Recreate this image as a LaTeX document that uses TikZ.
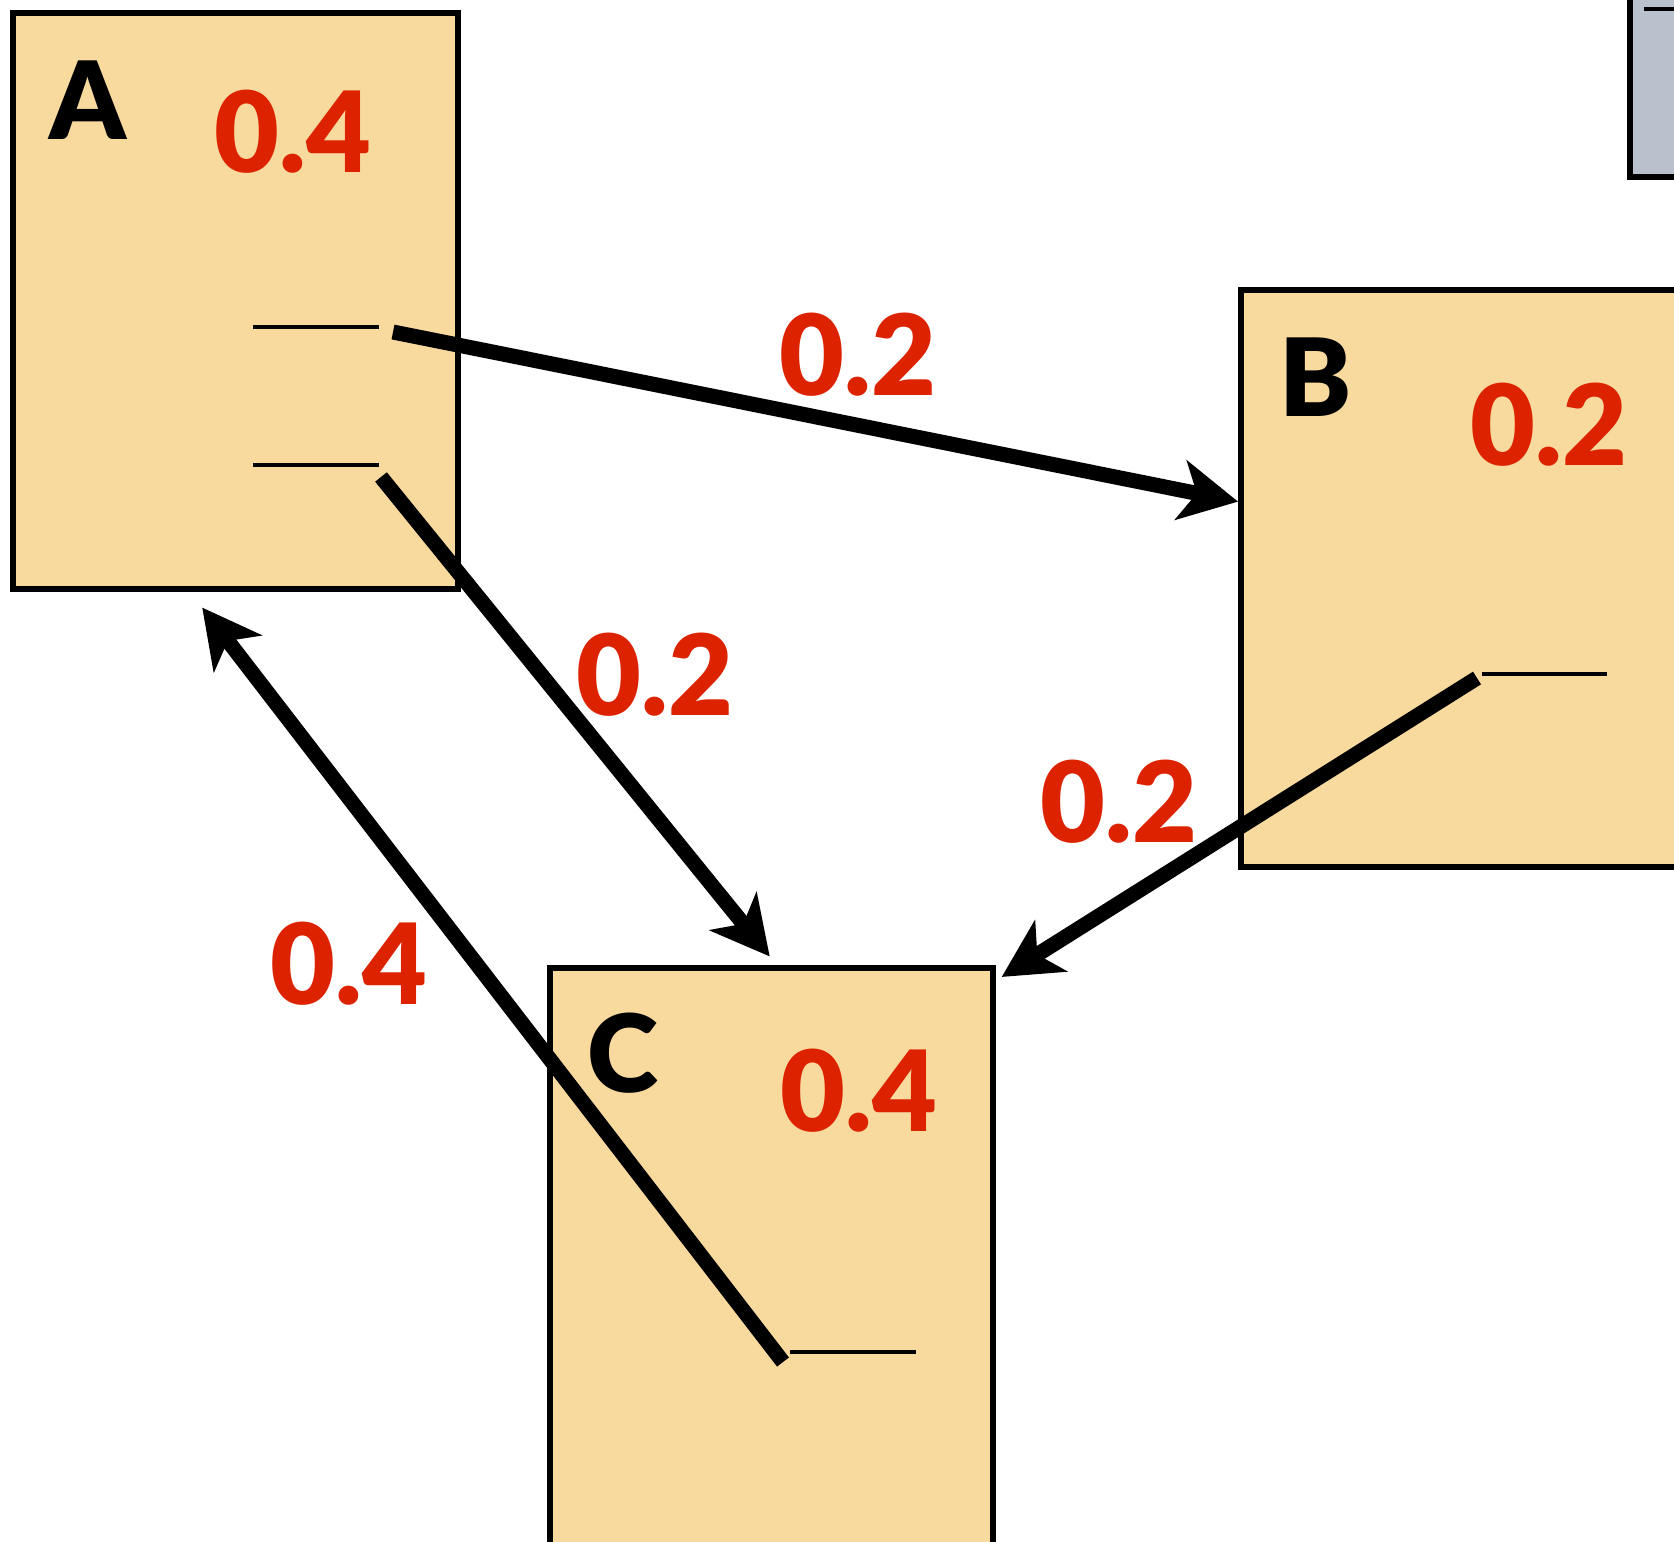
\documentclass[tikz,border=0pt]{standalone}
\usepackage{fontspec}
\setmainfont{Lato}
\newfontfamily\heavy{Lato Black}
\usetikzlibrary{arrows.meta}
\definecolor{boxfill}{HTML}{F9DA9E}
\definecolor{numred}{HTML}{DD2200}
\definecolor{grayfill}{HTML}{B9C1CD}
\tikzset{
  statebox/.style={draw=black, line width=2.6pt, fill=boxfill},
  letter/.style={font=\fontsize{54}{60}\selectfont\heavy, text=black, inner sep=0pt},
  prob/.style={font=\fontsize{56}{60}\selectfont\heavy, text=numred, inner sep=0pt},
  blank/.style={line width=2.2pt},
  link/.style={line width=7.5pt, -{Stealth[length=29pt, width=30pt, inset=8pt]}, shorten >=1pt}
}
\begin{document}
\begin{tikzpicture}[x=0.5pt, y=-0.5pt]
\useasboundingbox (0,0) rectangle (1674,1541);
\clip (0,0) rectangle (1674,1541);
\fill[white] (0,0) rectangle (1674,1541);
% partial gray box top right
\draw[draw=black, line width=2.6pt, fill=grayfill] (1630,-20) rectangle (1700,177);
\draw[line width=2pt] (1644,9) -- (1700,9);
% boxes
\draw[statebox] (13,13) rectangle (458,589);
\draw[statebox] (1241,290) rectangle (1700,867);
\draw[statebox] (550,968) rectangle (993,1560);
% letters and numbers
\node[letter] (la) at (88,100) {A};
\node[prob] (pa) at (293,132) {0.4};
\node[letter] (lb) at (1316,377) {B};
\node[prob] (pb) at (1549,425) {0.2};
\node[letter] (lc) at (623,1053) {C};
\node[prob] (pc) at (859,1091) {0.4};
% blanks
\draw[blank] (253,327) -- (379,327);
\draw[blank] (253,465) -- (379,465);
\draw[blank] (1482,674) -- (1607,674);
\draw[blank] (790,1352) -- (916,1352);
% connector endpoints
\coordinate (a1) at (393,332);
\coordinate (b1) at (1240,502);
\coordinate (a2) at (381,477);
\coordinate (c2) at (771,958);
\coordinate (b3) at (1477,678);
\coordinate (c3) at (1000,978);
\coordinate (c4) at (783,1362);
\coordinate (a4) at (201,606);
\draw[link] (a1) -- (b1);
\draw[link] (a2) -- (c2);
\draw[link] (b3) -- (c3);
\draw[link] (c4) -- (a4);
% edge labels
\node[prob] (e1) at (858,355) {0.2};
\node[prob] (e2) at (655,675) {0.2};
\node[prob] (e3) at (1119,802) {0.2};
\node[prob] (e4) at (349,964) {0.4};
\end{tikzpicture}
\end{document}
